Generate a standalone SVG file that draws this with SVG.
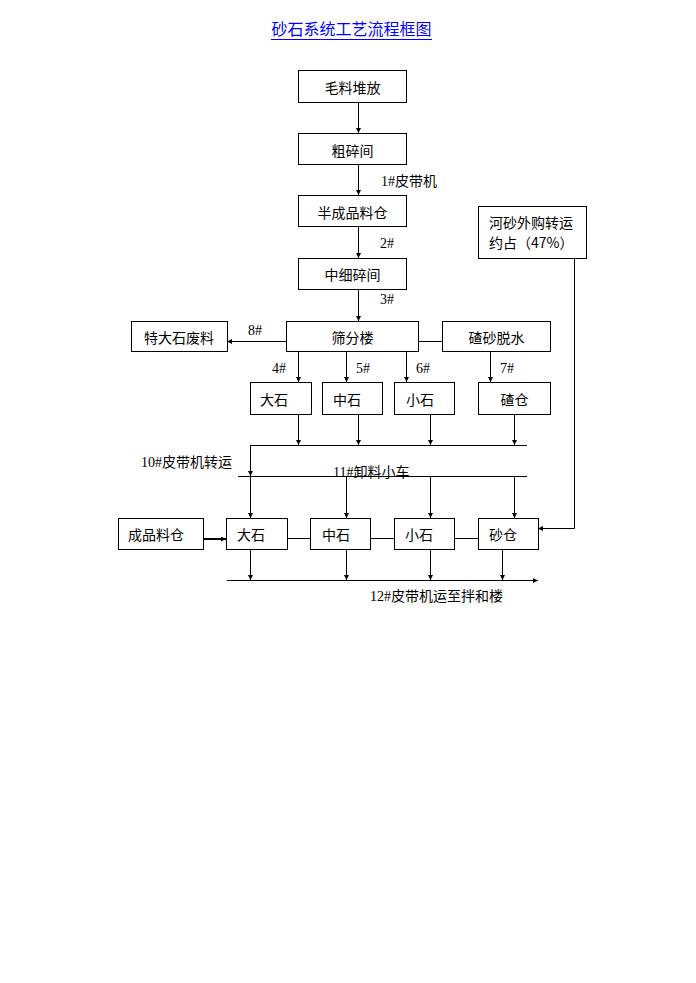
<svg xmlns="http://www.w3.org/2000/svg" width="696" height="983" viewBox="0 0 696 983">
<style>
.box{fill:#fff;stroke:#000;stroke-width:1}
.t{font-family:"Noto Sans CJK SC","Liberation Sans",sans-serif;font-size:14px;fill:#000}
.c{text-anchor:middle}
.lb{font-family:"Liberation Serif","Noto Sans CJK SC",serif;font-size:14px;fill:#000}
.ln{fill:none;stroke:#000;stroke-width:1}
.ar{marker-end:url(#ah)}
</style>
<defs>
<marker id="ah" viewBox="0 0 10 10" refX="10" refY="5" markerWidth="5" markerHeight="5" markerUnits="userSpaceOnUse" orient="auto">
<path d="M0,0 L10,5 L0,10 z" fill="#000"/>
</marker>
</defs>
<rect width="696" height="983" fill="#fff"/>
<g id="title">
<text x="351.5" y="35" text-anchor="middle" font-family="Noto Sans CJK SC, sans-serif" font-size="16" fill="#0000ff">砂石系统工艺流程框图</text>
<line x1="271" y1="39.5" x2="432" y2="39.5" stroke="#0000ff" stroke-width="1"/>
</g>
<g id="connectors">
<path class="ln ar" d="M358.5,102 V133"/>
<path class="ln ar" d="M358.5,164 V195"/>
<path class="ln ar" d="M358.5,226 V258"/>
<path class="ln ar" d="M358.5,289 V321"/>
<path class="ln ar" d="M286,341.5 H227"/>
<path class="ln" d="M418,341.5 H442"/>
<path class="ln ar" d="M298.5,351 V382"/>
<path class="ln ar" d="M346.5,351 V382"/>
<path class="ln ar" d="M406.5,351 V382"/>
<path class="ln ar" d="M490.5,351 V382"/>
<path class="ln ar" d="M298.5,414 V445"/>
<path class="ln ar" d="M358.5,414 V445"/>
<path class="ln ar" d="M430.5,414 V445"/>
<path class="ln ar" d="M514.5,414 V445"/>
<path class="ln" d="M250,445.5 H527"/>
<path class="ln ar" d="M250.5,445 V476"/>
<path class="ln" d="M238,476.5 H527"/>
<path class="ln ar" d="M250.5,476 V518"/>
<path class="ln ar" d="M346.5,476 V518"/>
<path class="ln ar" d="M430.5,476 V518"/>
<path class="ln ar" d="M514.5,476 V518"/>
<path class="ar" d="M203,539 H226" fill="none" stroke="#000" stroke-width="2"/>
<path class="ln" d="M287,538.5 H310 M370,538.5 H394 M454,538.5 H478"/>
<path class="ln ar" d="M574.5,258 V528.5 H538"/>
<path class="ln ar" d="M250.5,549 V580"/>
<path class="ln ar" d="M346.5,549 V580"/>
<path class="ln ar" d="M430.5,549 V580"/>
<path class="ln ar" d="M502.5,549 V580"/>
<path class="ln ar" d="M227,580.5 H538"/>
</g>
<g id="labels">
<text class="lb" x="381" y="186">1#皮带机</text>
<text class="lb" x="380" y="248">2#</text>
<text class="lb" x="380" y="304">3#</text>
<text class="lb" x="248" y="335">8#</text>
<text class="lb" x="272" y="373">4#</text>
<text class="lb" x="356" y="373">5#</text>
<text class="lb" x="416" y="373">6#</text>
<text class="lb" x="500" y="373">7#</text>
<text class="lb" x="141" y="467">10#皮带机转运</text>
<text class="lb" x="333" y="477">11#卸料小车</text>
<text class="lb" x="370" y="601">12#皮带机运至拌和楼</text>
</g>
<g id="n1"><rect class="box" x="298.5" y="70.5" width="108" height="32"/><text class="t c" x="352.5" y="93">毛料堆放</text></g>
<g id="n2"><rect class="box" x="298.5" y="133.5" width="108" height="31"/><text class="t c" x="352.5" y="155.5">粗碎间</text></g>
<g id="n3"><rect class="box" x="298.5" y="195.5" width="108" height="31"/><text class="t c" x="352.5" y="217.5">半成品料仓</text></g>
<g id="n4"><rect class="box" x="298.5" y="258.5" width="108" height="31"/><text class="t c" x="352.5" y="280">中细碎间</text></g>
<g id="n5"><rect class="box" x="478.5" y="206.5" width="108" height="52"/><text class="t" x="489" y="228">河砂外购转运</text><text class="t" x="489" y="248">约占（47%）</text></g>
<g id="n6"><rect class="box" x="286.5" y="321.5" width="132" height="30"/><text class="t c" x="352.5" y="342.5">筛分楼</text></g>
<g id="n7"><rect class="box" x="131.5" y="321.5" width="96" height="30"/><text class="t c" x="179" y="342.5">特大石废料</text></g>
<g id="n8"><rect class="box" x="442.5" y="321.5" width="108" height="30"/><text class="t c" x="496.5" y="342.5">碴砂脱水</text></g>
<g id="n9"><rect class="box" x="250.5" y="382.5" width="61" height="32"/><text class="t" x="260" y="405">大石</text></g>
<g id="n10"><rect class="box" x="322.5" y="382.5" width="60" height="32"/><text class="t" x="333" y="405">中石</text></g>
<g id="n11"><rect class="box" x="394.5" y="382.5" width="60" height="32"/><text class="t" x="406" y="405">小石</text></g>
<g id="n12"><rect class="box" x="478.5" y="382.5" width="72" height="32"/><text class="t c" x="514.5" y="405">碴仓</text></g>
<g id="n13"><rect class="box" x="118.5" y="518.5" width="85" height="31"/><text class="t" x="128" y="540">成品料仓</text></g>
<g id="n14"><rect class="box" x="226.5" y="518.5" width="61" height="31"/><text class="t" x="237" y="540">大石</text></g>
<g id="n15"><rect class="box" x="310.5" y="518.5" width="60" height="31"/><text class="t" x="322" y="540">中石</text></g>
<g id="n16"><rect class="box" x="394.5" y="518.5" width="60" height="31"/><text class="t" x="405" y="540">小石</text></g>
<g id="n17"><rect class="box" x="478.5" y="518.5" width="60" height="31"/><text class="t" x="489" y="540">砂仓</text></g>
</svg>
